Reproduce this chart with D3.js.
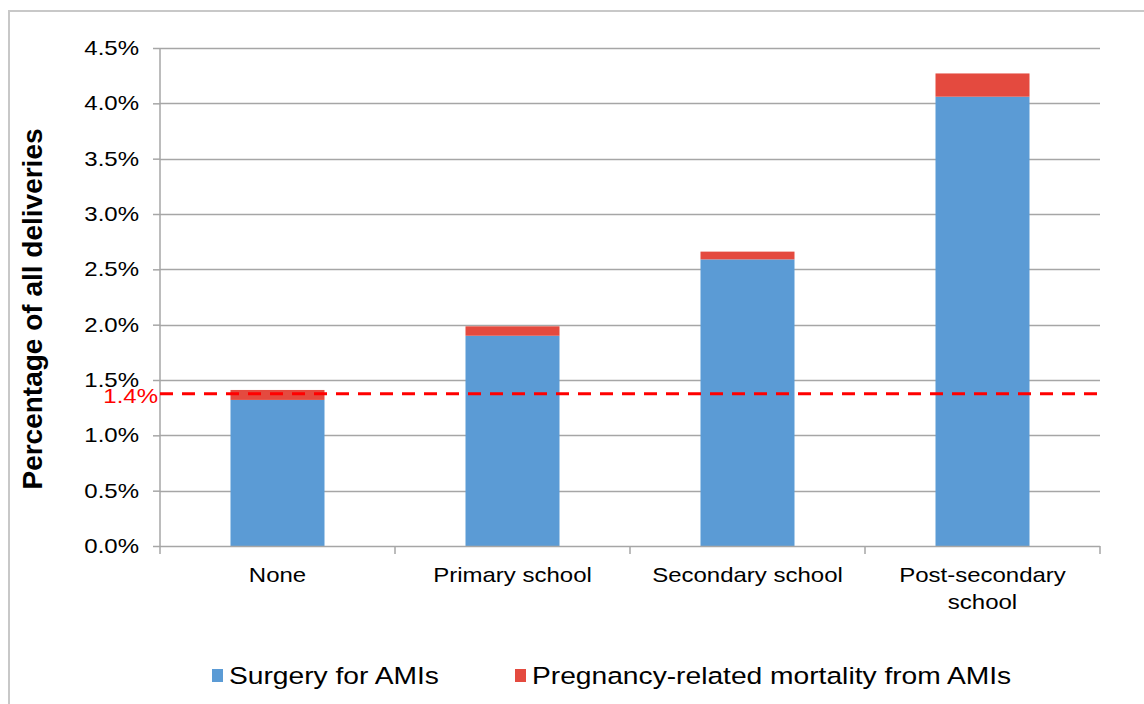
<!DOCTYPE html>
<html>
<head>
<meta charset="utf-8">
<script src="https://cdn.jsdelivr.net/npm/d3@7"></script>
<style>
  body { margin: 0; background: #fff; }
  svg text { font-family: "Liberation Sans", Arial, sans-serif; }
</style>
</head>
<body>
<svg id="chart" width="1144" height="704"></svg>
<script>
const categories = ["None", "Primary school", "Secondary school", "Post-secondary school"];
const categoryLines = [["None"], ["Primary school"], ["Secondary school"], ["Post-secondary", "school"]];
const surgery = [1.32, 1.90, 2.59, 4.06];
const mortality = [0.09, 0.085, 0.07, 0.21];
const seriesNames = ["Surgery for AMIs", "Pregnancy-related mortality from AMIs"];
const seriesColors = ["#5b9bd5", "#e44a3f"];
const yTicks = [0, 0.5, 1.0, 1.5, 2.0, 2.5, 3.0, 3.5, 4.0, 4.5];
const refValue = 1.375;
const refLabel = "1.4%";

(function () {
const SX = 1.2; // horizontal stretch of the reference text
const svg = d3.select("#chart");
// outer border
svg.append("rect").attr("x", 9).attr("y", 11).attr("width", 1150).attr("height", 720)
  .attr("fill", "none").attr("stroke", "#c8c8c8").attr("stroke-width", 2);

const pL = 160, pR = 1100, pT = 48, pB = 546;
const x = d3.scaleBand().domain(categories).range([pL, pR]).paddingInner(0).paddingOuter(0);
const y = d3.scaleLinear().domain([0, 4.5]).range([pB, pT]);

function stretchedText(parent, tx, ty, anchor, size, fill, txt) {
  return parent.append("text")
    .attr("transform", `translate(${tx},${ty}) scale(${SX},1)`)
    .attr("text-anchor", anchor).attr("font-size", size).attr("fill", fill).text(txt);
}

// gridlines
svg.append("g").selectAll("line").data(yTicks.filter(d => d > 0)).join("line")
  .attr("x1", pL).attr("x2", pR)
  .attr("y1", d => Math.round(y(d)) + 0.5).attr("y2", d => Math.round(y(d)) + 0.5)
  .attr("stroke", "#a6a6a6").attr("stroke-width", 1.5);

// y axis
const yAxis = d3.axisLeft(y).tickValues(yTicks).tickFormat(d => d.toFixed(1) + "%").tickSize(7).tickPadding(14);
const yg = svg.append("g").attr("transform", `translate(${pL},0)`).call(yAxis);
yg.select(".domain").attr("stroke", "#a6a6a6").attr("stroke-width", 1.5).attr("d", `M0,${pT}V${pB}`);
yg.selectAll(".tick line").attr("stroke", "#a6a6a6").attr("stroke-width", 1.5);
yg.selectAll(".tick text").attr("font-size", 20).attr("fill", "#000")
  .attr("x", -21 / SX).attr("transform", `scale(${SX},1)`);

// bars
const bw = x.bandwidth() * 0.4;
const bars = svg.append("g");
bars.selectAll("rect.s").data(categories).join("rect").attr("class", "s")
  .attr("x", d => x(d) + (x.bandwidth() - bw) / 2)
  .attr("width", bw)
  .attr("y", (d, i) => y(surgery[i]))
  .attr("height", (d, i) => y(0) - y(surgery[i]))
  .attr("fill", seriesColors[0]);
bars.selectAll("rect.m").data(categories).join("rect").attr("class", "m")
  .attr("x", d => x(d) + (x.bandwidth() - bw) / 2)
  .attr("width", bw)
  .attr("y", (d, i) => y(surgery[i] + mortality[i]))
  .attr("height", (d, i) => y(surgery[i]) - y(surgery[i] + mortality[i]))
  .attr("fill", seriesColors[1]);

// x axis
const xg = svg.append("g").attr("transform", `translate(0,${pB})`);
xg.append("line").attr("x1", pL).attr("x2", pR).attr("y1", 0.5).attr("y2", 0.5)
  .attr("stroke", "#a6a6a6").attr("stroke-width", 1.5);
const bounds = categories.map(c => x(c)).concat([pR]);
xg.selectAll("line.t").data(bounds).join("line").attr("class", "t")
  .attr("x1", d => d).attr("x2", d => d).attr("y1", 0).attr("y2", 8)
  .attr("stroke", "#a6a6a6").attr("stroke-width", 1.5);
categories.forEach((c, i) => {
  const cx = x(c) + x.bandwidth() / 2;
  categoryLines[i].forEach((ln, j) => {
    stretchedText(xg, cx, 36 + j * 27, "middle", 20, "#000", ln);
  });
});

// reference line
svg.append("line").attr("x1", pL).attr("x2", pR)
  .attr("y1", y(refValue)).attr("y2", y(refValue))
  .attr("stroke", "#ff0000").attr("stroke-width", 3).attr("stroke-dasharray", "13,9");
stretchedText(svg, 158, y(refValue) + 9, "end", 20, "#ff0000", refLabel);

// y axis title
svg.append("text").attr("transform", `translate(42,${(pT + pB) / 2 + 12}) rotate(-90)`)
  .attr("text-anchor", "middle").attr("font-size", 28).attr("font-weight", "bold").attr("fill", "#000")
  .text("Percentage of all deliveries");

// legend
const legendX = [212, 515];
seriesNames.forEach((n, i) => {
  svg.append("rect").attr("x", legendX[i]).attr("y", 669).attr("width", 11).attr("height", 13).attr("fill", seriesColors[i]);
  stretchedText(svg, legendX[i] + 17, 684, "start", 23.5, "#000", n);
});
})();
</script>
</body>
</html>
